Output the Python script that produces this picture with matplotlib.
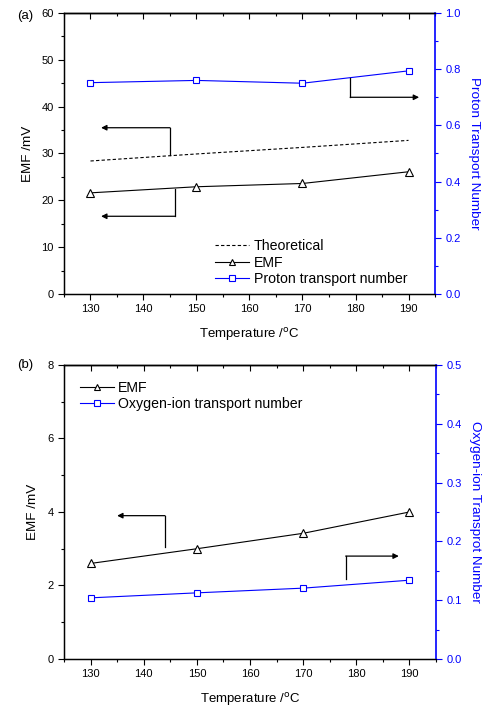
import matplotlib.pyplot as plt
from matplotlib.ticker import MultipleLocator, FormatStrFormatter

plt.rcParams['font.family'] = ['Liberation Sans', 'DejaVu Sans']

temps = [130, 150, 170, 190]

# panel (a)
emf_a = [21.6, 22.9, 23.6, 26.1]
theo_a = [28.4, 29.9, 31.3, 32.8]
proton_tn = [0.752, 0.760, 0.750, 0.794]

# panel (b)
emf_b = [2.6, 3.0, 3.42, 4.0]
oxygen_tn = [0.104, 0.1125, 0.1205, 0.134]

# elbow arrows: (start, corner, end) in data coords, which axis
arrows_a = [
    ('left', [(145, 29.7), (145, 35.5), (132, 35.5)]),
    ('left', [(146, 22.4), (146, 16.6), (132, 16.6)]),
    ('right', [(179, 0.768), (179, 0.70), (192, 0.70)]),
]
arrows_b = [
    ('left', [(144, 3.05), (144, 3.9), (135, 3.9)]),
    ('right', [(178, 0.136), (178, 0.175), (188, 0.175)]),
]

blue = '#0000ff'
fs_tick = 8
fs_lab = 9.7
fs_leg = 10.2


def style_axes(ax, ax2, ymax, ymaj, ymin, y2max, y2maj, y2min):
    ax.set_xlim(125, 195)
    ax.set_ylim(0, ymax)
    ax2.set_ylim(0, y2max)
    ax.xaxis.set_major_locator(MultipleLocator(10))
    ax.xaxis.set_minor_locator(MultipleLocator(5))
    ax.yaxis.set_major_locator(MultipleLocator(ymaj))
    ax.yaxis.set_minor_locator(MultipleLocator(ymin))
    ax2.yaxis.set_major_locator(MultipleLocator(y2maj))
    ax2.yaxis.set_minor_locator(MultipleLocator(y2min))
    ax2.yaxis.set_major_formatter(FormatStrFormatter('%.1f'))
    ax.tick_params(axis='both', which='both', direction='out',
                   labelsize=fs_tick, width=0.8)
    ax.tick_params(axis='both', which='major', length=4)
    ax.tick_params(axis='both', which='minor', length=2.5)
    # inward ticks along the top edge
    top = ax.secondary_xaxis('top')
    top.xaxis.set_major_locator(MultipleLocator(10))
    top.xaxis.set_minor_locator(MultipleLocator(5))
    top.tick_params(axis='x', which='both', direction='in', labeltop=False,
                    width=0.8)
    top.tick_params(axis='x', which='major', length=4)
    top.tick_params(axis='x', which='minor', length=2.5)
    top.spines['top'].set_linewidth(1.0)
    ax2.tick_params(axis='y', which='both', colors=blue, labelsize=fs_tick,
                    width=0.8)
    ax2.tick_params(axis='y', which='major', length=4)
    ax2.tick_params(axis='y', which='minor', length=2.5)
    ax2.spines['right'].set_color(blue)
    ax2.spines['right'].set_linewidth(1.2)
    for s in ['left', 'bottom', 'top']:
        ax.spines[s].set_linewidth(1.0)
    ax.spines['right'].set_visible(False)
    ax.set_xlabel('Temperature /$^{\\mathrm{o}}$C', fontsize=9.5, labelpad=8)


def draw_arrows(ax, ax2, arrows):
    for side, pts in arrows:
        a = ax if side == 'left' else ax2
        (x0, y0), (x1, y1), (x2, y2) = pts
        a.plot([x0, x1], [y0, y1], color='black', lw=0.9)
        a.annotate('', xy=(x2, y2), xytext=(x1, y1),
                   arrowprops=dict(arrowstyle='-|>', color='black', lw=0.9,
                                   mutation_scale=8, shrinkA=0, shrinkB=0))


fig = plt.figure(figsize=(4.98, 7.08), dpi=100)

# (a)
ax = fig.add_axes([0.1285, 0.5847, 0.745, 0.397])
ax2 = ax.twinx()
l1, = ax.plot(temps, theo_a, color='black', ls='--', lw=0.8, dashes=(3, 2),
              label='Theoretical')
l2, = ax.plot(temps, emf_a, color='black', lw=0.8, marker='^', ms=6,
              mfc='white', mec='black', mew=0.8, label='EMF')
l3, = ax2.plot(temps, proton_tn, color=blue, lw=0.8, marker='s', ms=5,
               mfc='white', mec=blue, mew=0.8, label='Proton transport number')
style_axes(ax, ax2, 60, 10, 5, 1.0, 0.2, 0.1)
ax.set_ylabel('EMF /mV', fontsize=fs_lab, labelpad=5)
ax2.set_ylabel('Proton Transport Number', color=blue, fontsize=fs_lab,
               rotation=270, labelpad=14)
draw_arrows(ax, ax2, arrows_a)
ax.legend([l1, l2, l3], [l.get_label() for l in [l1, l2, l3]],
          loc='lower left', bbox_to_anchor=(0.387, 0.0), frameon=False,
          fontsize=fs_leg, handlelength=2.4, handletextpad=0.3,
          labelspacing=0.18, borderaxespad=0.15, markerscale=0.75)
fig.text(0.034, 0.978, '(a)', fontsize=9.5, va='center', ha='left')

# (b)
ax = fig.add_axes([0.1285, 0.0692, 0.747, 0.4153])
ax2 = ax.twinx()
m1, = ax.plot(temps, emf_b, color='black', lw=0.8, marker='^', ms=6,
              mfc='white', mec='black', mew=0.8, label='EMF')
m2, = ax2.plot(temps, oxygen_tn, color=blue, lw=0.8, marker='s', ms=5,
               mfc='white', mec=blue, mew=0.8,
               label='Oxygen-ion transport number')
style_axes(ax, ax2, 8, 2, 1, 0.5, 0.1, 0.05)
ax.set_ylabel('EMF /mV', fontsize=fs_lab, labelpad=6)
ax2.set_ylabel('Oxygen-ion Transprot Number', color=blue, fontsize=fs_lab,
               rotation=270, labelpad=14)
draw_arrows(ax, ax2, arrows_b)
ax.legend([m1, m2], [m1.get_label(), m2.get_label()], loc='upper left',
          frameon=False, fontsize=fs_leg, handlelength=2.4, handletextpad=0.3,
          labelspacing=0.2, borderaxespad=0.7, markerscale=0.75)
fig.text(0.034, 0.4845, '(b)', fontsize=9.5, va='center', ha='left')

fig.savefig('out.png', dpi=100)
